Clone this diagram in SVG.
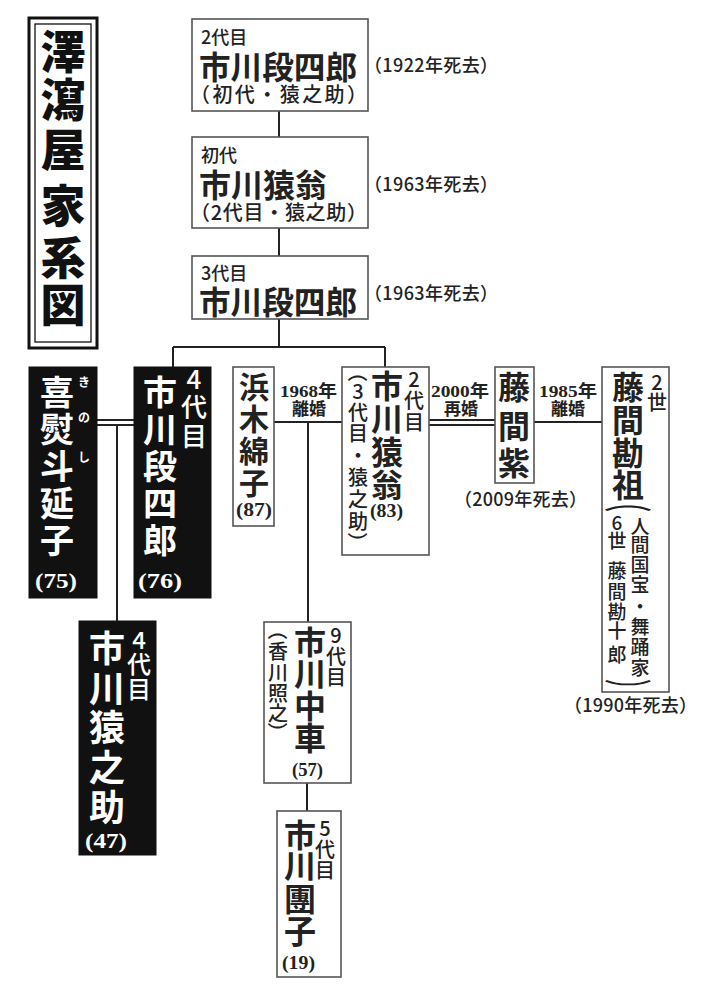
<svg xmlns="http://www.w3.org/2000/svg" width="714" height="989" viewBox="0 0 714 989">
<style>
.bx{fill:#fff;stroke:#555;stroke-width:1.6}
.bk{fill:#111;stroke:#111;stroke-width:1}
.ln{stroke:#222;stroke-width:2;fill:none}
.s{font-family:"Noto Sans CJK JP","Noto Sans",sans-serif;fill:#222}
.v{text-anchor:middle}
.big{font-size:32px;font-weight:700}
.sm{font-size:20px;font-weight:500}
.sf{font-family:"Liberation Serif","Noto Sans CJK JP",serif;font-weight:700;fill:#222}
.lb{font-size:17px}
.ag{font-size:18px}
.dt{font-size:18px;font-weight:500}
</style>
<rect width="714" height="989" fill="#fff"/>

<g id="connectors">
<path class="ln" d="M279 111V137M279 228V256M279 319V347M173 347H385M173 347V367M385 347V367"/>
<path class="ln" d="M97 420H134M97 425H134M117 425V621"/>
<path class="ln" d="M274 422H342M308 422V622"/>
<path class="ln" d="M429 420H495M429 425H495"/>
<path class="ln" d="M534 422H602"/>
<path class="ln" d="M307 783V811"/>
</g>

<g id="title">
<rect x="29" y="18" width="68" height="330" fill="#fff" stroke="#111" stroke-width="3"/>
<rect x="35" y="24" width="56" height="318" fill="none" stroke="#111" stroke-width="1.3"/>
<g class="s v" style="font-size:45px;font-weight:900;fill:#111">
<text x="63" y="69">澤</text><text x="63" y="117">瀉</text><text x="63" y="167">屋</text>
<text x="63" y="223">家</text><text x="63" y="275">系</text><text x="63" y="322">図</text>
</g>
</g>

<g id="n-danshiro2">
<rect class="bx" x="192" y="19" width="176" height="92"/>
<text class="s" x="201" y="44" style="font-size:18px;font-weight:500">2代目</text>
<text class="s big" x="199" y="79" textLength="158" lengthAdjust="spacingAndGlyphs">市川段四郎</text>
<text class="s" x="190" y="102" style="font-size:20px;font-weight:500" textLength="177">（初代・猿之助）</text>
<text class="s dt" x="364" y="72" textLength="134">（1922年死去）</text>
</g>

<g id="n-ennou1">
<rect class="bx" x="192" y="137" width="176" height="91"/>
<text class="s" x="201" y="162" style="font-size:18px;font-weight:500">初代</text>
<text class="s big" x="199" y="197" textLength="128" lengthAdjust="spacingAndGlyphs">市川猿翁</text>
<text class="s" x="190" y="220" style="font-size:20px;font-weight:500" textLength="177">（2代目・猿之助）</text>
<text class="s dt" x="364" y="191" textLength="134">（1963年死去）</text>
</g>

<g id="n-danshiro3">
<rect class="bx" x="192" y="256" width="176" height="63"/>
<text class="s" x="201" y="280" style="font-size:18px;font-weight:500">3代目</text>
<text class="s big" x="199" y="314" textLength="158" lengthAdjust="spacingAndGlyphs">市川段四郎</text>
<text class="s dt" x="364" y="300" textLength="134">（1963年死去）</text>
</g>

<g id="n-kinoshi">
<rect class="bk" x="29" y="367" width="68" height="231"/>
<g class="s v" style="font-size:34px;font-weight:700;fill:#fff">
<text x="57" y="405">喜</text><text x="57" y="442">熨</text><text x="57" y="479">斗</text><text x="57" y="516">延</text><text x="57" y="553">子</text>
</g>
<g class="s v" style="font-size:12px;font-weight:700;fill:#fff">
<text x="84" y="387">き</text><text x="84" y="422">の</text><text x="84" y="462">し</text>
</g>
<text class="sf" x="35" y="588" style="font-size:21px;fill:#fff" textLength="42" lengthAdjust="spacingAndGlyphs">(75)</text>
</g>

<g id="n-danshiro4">
<rect class="bk" x="134" y="367" width="77" height="231"/>
<g class="s v" style="font-size:34px;font-weight:700;fill:#fff">
<text x="160" y="405">市</text><text x="160" y="442">川</text><text x="160" y="479">段</text><text x="160" y="516">四</text><text x="160" y="553">郎</text>
</g>
<g class="s v" style="font-size:26px;font-weight:500;fill:#fff">
<text x="194" y="389">4</text><text x="194" y="417">代</text><text x="194" y="446">目</text>
</g>
<text class="sf" x="138" y="588" style="font-size:21px;fill:#fff" textLength="44" lengthAdjust="spacingAndGlyphs">(76)</text>
</g>

<g id="n-ennosuke4">
<rect class="bk" x="79" y="621" width="77" height="234"/>
<g class="s v" style="font-size:36px;font-weight:700;fill:#fff">
<text x="107" y="662">市</text><text x="107" y="702">川</text><text x="107" y="741">猿</text><text x="107" y="781">之</text><text x="107" y="821">助</text>
</g>
<g class="s v" style="font-size:24px;font-weight:500;fill:#fff">
<text x="139" y="649">4</text><text x="139" y="673">代</text><text x="139" y="698">目</text>
</g>
<text class="sf" x="85" y="848" style="font-size:21px;fill:#fff" textLength="42" lengthAdjust="spacingAndGlyphs">(47)</text>
</g>

<g id="n-hamayuko">
<rect class="bx" x="233" y="367" width="41" height="159"/>
<g class="s v" style="font-size:30px;font-weight:700">
<text x="254" y="398">浜</text><text x="254" y="430">木</text><text x="254" y="462">綿</text><text x="254" y="494">子</text>
</g>
<text class="sf ag" x="236" y="516" textLength="36" lengthAdjust="spacingAndGlyphs">(87)</text>
</g>

<g id="l-1968">
<text class="sf lb" x="280" y="397" textLength="57" lengthAdjust="spacingAndGlyphs">1968年</text>
<text class="sf lb v" x="309" y="415">離婚</text>
</g>

<g id="n-ennou2">
<rect class="bx" x="342" y="367" width="87" height="188"/>
<g class="s v big">
<text x="387" y="398">市</text><text x="387" y="431">川</text><text x="387" y="464">猿</text><text x="387" y="497">翁</text>
</g>
<g class="s v sm">
<text x="414" y="387">2</text><text x="414" y="408">代</text><text x="414" y="430">目</text>
</g>
<g class="s v sm">
<text x="358" y="379.6" transform="rotate(90 358 372)">（</text>
<text x="358" y="399">3</text><text x="358" y="420">代</text><text x="358" y="441">目</text><text x="358" y="463">・</text><text x="358" y="485">猿</text><text x="358" y="507">之</text><text x="358" y="529">助</text>
<text x="358" y="549.6" transform="rotate(90 358 542)">）</text>
</g>
<text class="sf ag" x="370" y="517" textLength="33" lengthAdjust="spacingAndGlyphs">(83)</text>
</g>

<g id="l-2000">
<text class="sf lb" x="431" y="397" textLength="58" lengthAdjust="spacingAndGlyphs">2000年</text>
<text class="sf lb v" x="461" y="415">再婚</text>
</g>

<g id="n-fujimamurasaki">
<rect class="bx" x="495" y="367" width="39" height="116"/>
<g class="s v big">
<text x="514" y="399">藤</text><text x="514" y="438">間</text><text x="514" y="475">紫</text>
</g>
<text class="s dt" x="454" y="506" textLength="133">（2009年死去）</text>
</g>

<g id="l-1985">
<text class="sf lb" x="539" y="397" textLength="58" lengthAdjust="spacingAndGlyphs">1985年</text>
<text class="sf lb v" x="568" y="415">離婚</text>
</g>

<g id="n-kanso">
<rect class="bx" x="602" y="367" width="67" height="325"/>
<g class="s v big">
<text x="628" y="399">藤</text><text x="628" y="432">間</text><text x="628" y="465">勘</text><text x="628" y="497">祖</text>
</g>
<g class="s v sm">
<text x="657" y="390">2</text><text x="657" y="410">世</text>
</g>
<text class="s v sm" x="628" y="509.6" transform="translate(628 502) scale(2.4 1) rotate(90) translate(-628 -502)">（</text>
<g class="s v" style="font-size:19px;font-weight:500">
<text x="640" y="534">人</text><text x="640" y="552">間</text><text x="640" y="572">国</text><text x="640" y="592">宝</text><text x="640" y="614">・</text><text x="640" y="634">舞</text><text x="640" y="654">踊</text><text x="640" y="675">家</text>
</g>
<g class="s v" style="font-size:19px;font-weight:500">
<text x="617" y="530">6</text><text x="617" y="548">世</text><text x="617" y="578">藤</text><text x="617" y="599">間</text><text x="617" y="619">勘</text><text x="617" y="638">十</text><text x="617" y="662">郎</text>
</g>
<text class="s v sm" x="628" y="696.6" transform="translate(628 689) scale(2.4 1) rotate(90) translate(-628 -689)">）</text>
<text class="s dt" x="564" y="712" textLength="133">（1990年死去）</text>
</g>

<g id="n-chusha">
<rect class="bx" x="264" y="622" width="87" height="161"/>
<g class="s v big">
<text x="310" y="654">市</text><text x="310" y="686">川</text><text x="310" y="718">中</text><text x="310" y="750">車</text>
</g>
<g class="s v sm">
<text x="336" y="643">9</text><text x="336" y="664">代</text><text x="336" y="685">目</text>
</g>
<g class="s v sm">
<text x="278" y="637.6" transform="rotate(90 278 630)">（</text>
<text x="278" y="659">香</text><text x="278" y="680">川</text><text x="278" y="701">照</text><text x="278" y="721">之</text>
<text x="278" y="739.6" transform="rotate(90 278 732)">）</text>
</g>
<text class="sf ag" x="292" y="776" textLength="31" lengthAdjust="spacingAndGlyphs">(57)</text>
</g>

<g id="n-danko">
<rect class="bx" x="277" y="811" width="64" height="166"/>
<g class="s v big">
<text x="300" y="847">市</text><text x="300" y="878">川</text><text x="300" y="911">團</text><text x="300" y="943">子</text>
</g>
<g class="s v sm">
<text x="325" y="836">5</text><text x="325" y="857">代</text><text x="325" y="878">目</text>
</g>
<text class="sf ag" x="282" y="969" textLength="33" lengthAdjust="spacingAndGlyphs">(19)</text>
</g>
</svg>
